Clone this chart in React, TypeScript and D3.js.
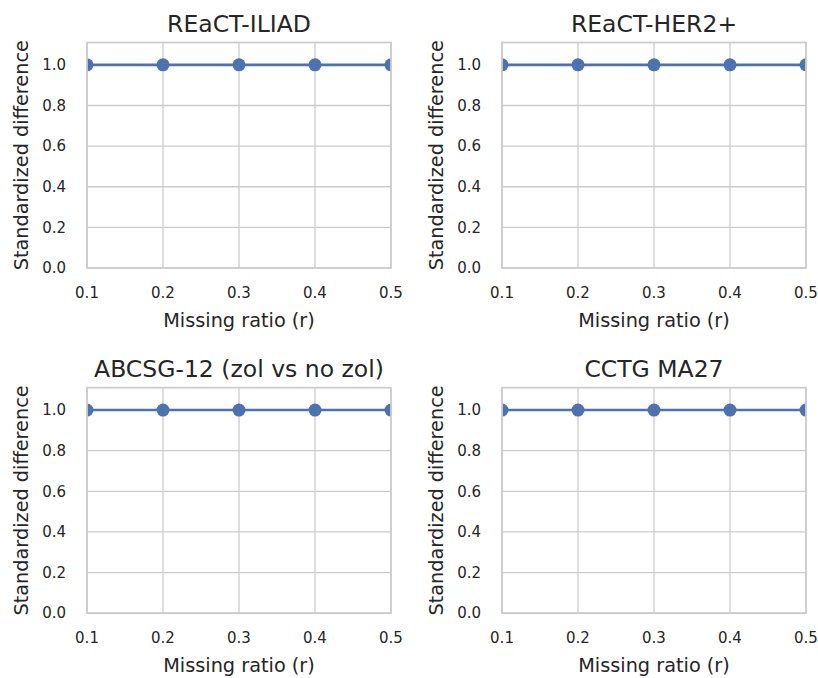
import React from "react";
import * as d3 from "d3";

const panelTitles = ["REaCT-ILIAD", "REaCT-HER2+", "ABCSG-12 (zol vs no zol)", "CCTG MA27"];
const missingRatios = [0.1, 0.2, 0.3, 0.4, 0.5];
const seriesIliad = [1.0, 1.0, 1.0, 1.0, 1.0];
const seriesHer2 = [1.0, 1.0, 1.0, 1.0, 1.0];
const seriesAbcsg = [1.0, 1.0, 1.0, 1.0, 1.0];
const seriesMa27 = [1.0, 1.0, 1.0, 1.0, 1.0];
const xTicks = [0.1, 0.2, 0.3, 0.4, 0.5];
const yTicks = [0.0, 0.2, 0.4, 0.6, 0.8, 1.0];
const xLabel = "Missing ratio (r)";
const yLabel = "Standardized difference";

const allSeries = [seriesIliad, seriesHer2, seriesAbcsg, seriesMa27];

const W = 818;
const H = 678;
const colLefts = [87, 502];
const rowTops = [42.5, 387.7];
const pw = 304;
const ph = 225.5;
const FONT = "DejaVu Sans, sans-serif";
const TEXT = "#262626";
const GRID = "#cccccc";
const BLUE = "#4c72b0";

function Panel({ idx }: { idx: number }) {
  const col = idx % 2;
  const row = Math.floor(idx / 2);
  const left = colLefts[col];
  const top = rowTops[row];
  const x = d3.scaleLinear().domain([0.1, 0.5]).range([0, pw]);
  const y = d3.scaleLinear().domain([0, 1.11]).range([ph, 0]);
  const data = allSeries[idx];
  const line = d3
    .line<number>()
    .x((_, i) => x(missingRatios[i]))
    .y((d) => y(d));
  const clipId = `clip-${idx}`;
  return (
    <g transform={`translate(${left},${top})`}>
      <defs>
        <clipPath id={clipId}>
          <rect x={0} y={0} width={pw} height={ph} />
        </clipPath>
      </defs>
      {xTicks.map((t) => (
        <line key={"gx" + t} x1={x(t)} x2={x(t)} y1={0} y2={ph} stroke={GRID} strokeWidth={1.3} />
      ))}
      {yTicks.map((t) => (
        <line key={"gy" + t} x1={0} x2={pw} y1={y(t)} y2={y(t)} stroke={GRID} strokeWidth={1.3} />
      ))}
      <g clipPath={`url(#${clipId})`}>
        <path d={line(data) || ""} fill="none" stroke={BLUE} strokeWidth={2.6} />
        {data.map((v, i) => (
          <circle key={i} cx={x(missingRatios[i])} cy={y(v)} r={6.5} fill={BLUE} />
        ))}
      </g>
      <rect x={0} y={0} width={pw} height={ph} fill="none" stroke={GRID} strokeWidth={1.8} />
      {xTicks.map((t) => (
        <text key={"tx" + t} x={x(t)} y={ph + 30} textAnchor="middle" fontSize={15} fill={TEXT} fontFamily={FONT}>
          {d3.format(".1f")(t)}
        </text>
      ))}
      {yTicks.map((t) => (
        <text key={"ty" + t} x={-21} y={y(t)} dy="0.35em" textAnchor="end" fontSize={15} fill={TEXT} fontFamily={FONT}>
          {d3.format(".1f")(t)}
        </text>
      ))}
      <text x={pw / 2} y={-11} textAnchor="middle" fontSize={23.5} fill={TEXT} fontFamily={FONT}>
        {panelTitles[idx]}
      </text>
      <text x={pw / 2} y={ph + 59} textAnchor="middle" fontSize={19.3} fill={TEXT} fontFamily={FONT}>
        {xLabel}
      </text>
      <text
        transform={`translate(${-59},${ph / 2}) rotate(-90)`}
        textAnchor="middle"
        fontSize={19.3}
        fill={TEXT}
        fontFamily={FONT}
      >
        {yLabel}
      </text>
    </g>
  );
}

export default function App() {
  return (
    <svg width={W} height={H} style={{ position: "absolute", left: 0, top: 0, background: "#fff" }}>
      <rect width={W} height={H} fill="#fff" />
      {panelTitles.map((_, i) => (
        <Panel key={i} idx={i} />
      ))}
    </svg>
  );
}
